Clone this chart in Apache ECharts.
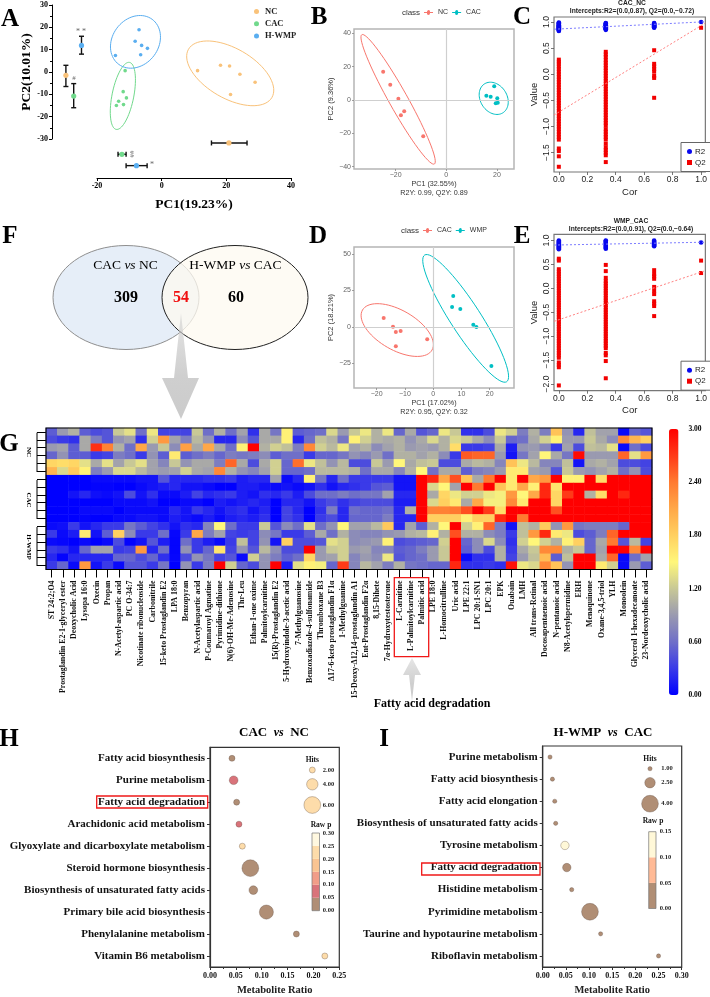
<!DOCTYPE html>
<html><head><meta charset="utf-8">
<script src="https://cdn.jsdelivr.net/npm/echarts@6/dist/echarts.min.js"></script>
<style>html,body{margin:0;padding:0;background:#fff}#c{width:710px;height:997px}</style>
</head><body><div id="c"></div>
<script>
// ---------- Panel A
const aNC=[[11.1,0.6],[18.2,3.0],[21.0,2.7],[24.2,-1.0],[28.9,-4.6],[21.3,-10.1]];
const aCAC=[[-11.3,0.6],[-11.9,-8.8],[-10.9,-11.6],[-13.3,-13.1],[-11.8,-14.6],[-14,-15]];
const aWMP=[[-7,18.9],[-8.2,13.8],[-6.2,11.9],[-4.4,10.6],[-6.5,7.7],[-14.3,7.4]];
const aEll={NC:[21.2,-0.6,12.9,-10.8,3.87,9.67],CAC:[-12,-10.7,2.06,15.0,3.3,-0.9],'H-WMP':[-8.1,13.5,5.15,10.1,5.77,-6.1]};
const aPC2Err=[[0,-1.5,-6.5,3],[1,-10.8,-16,-5.2],[2,11.9,8,16]];
const aPC1Err=[[0,20.8,15.4,26.4],[1,-12.3,-13.5,-11],[2,-7.8,-11,-4.5]];
// ---------- Panel B
const bNC=[[-24.9,17],[-22.1,9.2],[-18.9,0.8],[-16.6,-6.8],[-17.9,-9.2],[-9.1,-21.8]];
const bCAC=[[15.8,2.6],[17.5,2],[18.9,8.2],[20.1,1],[19.5,-2],[20.3,-1.6]];
const bEll={NC:[-19,0.4,14.3,-38.8,3.2,2.74],CAC:[18.7,1,3.9,-8.4,4.2,4.8]};
// ---------- Panel D
const dCAC=[[-17.5,6.2],[-14.2,0.2],[-13.2,-3.4],[-11.5,-2.7],[-13.2,-13.2],[-2.1,-8.4]];
const dWMP=[[7.1,21.2],[6.7,13.7],[9.6,12.3],[14.2,1.6],[15.3,0],[20.6,-26.7]];
const dEll={CAC:[-12.7,-2.1,12.3,-13.7,3.5,11.8],WMP:[11.5,5.9,14.5,-43.4,4.5,5.5]};
// ---------- Panel C (permutation test)
const cR2at0=[.83,.84,.85,.86,.87,.88,.89,.9,.91,.92,.93,.94,.95,.96,.97,.98,.99];
const cR2at33=[.85,.86,.87,.88,.89,.9,.91,.92,.93,.94,.95,.96,.97,.98];
const cR2at67=[.89,.9,.91,.92,.93,.94,.95,.96,.97,.98];
const cR2at1=[1];
const cQ2at0=[-1.77,-1.57,-1.47,-1.42,-1.25,-1.2,-1.15,-1.1,-1.05,-1,-.95,-.9,-.85,-.8,-.75,-.7,-.65,-.6,-.55,-.5,-.45,-.4,-.35,-.3,-.25,-.2,-.15,-.1,-.05,0,.05,.1,.15,.2,.24,.28];
const cQ2at33=[-1.68,-1.55,-1.5,-1.45,-1.4,-1.33,-1.25,-1.2,-1.15,-1.1,-1.05,-.98,-.93,-.88,-.83,-.78,-.73,-.68,-.63,-.58,-.53,-.48,-.43,-.38,-.33,-.28,-.23,-.18,-.13,-.08,-.03,.02,.07,.12,.17,.22,.27,.33,.38,.43];
const cQ2at67=[-.45,-.07,-.03,.05,.1,.15,.2,.46];
const cQ2at1=[.89];
const cLineQ2=[[-0.034,-0.78],[1.03,0.98]];
const cLineR2=[[-0.034,0.862],[1.03,1.005]];
// ---------- Panel E
const eR2at0=[.82,.84,.86,.88,.9,.92,.94,.96,.98,1];
const eR2at33=[.83,.85,.87,.89,.91,.93,.95,.97,.99,1];
const eR2at67=[.88,.9,.92,.94,.96,.98,1];
const eR2at1=[.96];
const eQ2at0=[-2.03,-1.65,-1.6,-1.55,-1.45,-1.4,-1.35,-1.3,-1.25,-1.2,-1.15,-1.1,-1.05,-1,-.95,-.9,-.85,-.8,-.75,-.7,-.65,-.6,-.55,-.5,-.45,-.4,-.35,-.3,-.25,-.2,-.15,-.1,-.05,0,.05,.1,.15,.2,.25,.3,.35,.4,.58,.62];
const eQ2at33=[-1.88,-1.52,-1.4,-1.35,-1.25,-1.2,-1.15,-1.1,-1.05,-1,-.95,-.9,-.85,-.8,-.75,-.7,-.65,-.6,-.55,-.5,-.45,-.4,-.35,-.3,-.25,-.2,-.15,-.1,-.05,0,.05,.1,.15,.22,.36,.49];
const eQ2at67=[-.58,-.37,-.32,-.27,-.12,-.05,.03,.2,.25,.3,.38];
const eQ2at1=[.32,.58];
const eLineQ2=[[-0.034,-0.69],[1.03,0.37]];
const eLineR2=[[-0.034,0.905],[1.03,0.965]];
// ---------- Panel G (heatmap)
const metabolites=['ST 24:2;O4','Prostaglandin E2-1-glyceryl ester','Deoxycholic Acid','Lysopa 16:0','Oxecin','Propan','N-Acetyl-aspartic acid','PC O-34:7','Nicotinate ribonucleoside','Carbonitrile','15-keto Prostaglandin E2','LPA 18:0','Benzopyran','N-Acetylaspartic acid','P-Coumaroyl Agmatine','Pyrimidine-dithione','N(6)-OH-Me-Adenosine','Thr-Leu','Ethan-1-one oxime','Palmitoylcarnitine','15(R)-Prostaglandin E2','5-Hydroxyindole-3-acetic acid','7-Methylguanosine','Benzoxadiazole-4-sulfonamide','Thromboxane B3','Δ17-6-keto prostaglandin F1α','1-Methylguanine','15-Deoxy-Δ12,14-prostaglandin A1','Ent-Prostaglandin F2α','8,15-Dihete','7α-Hydroxytestosterone','L-Carnitine','L-Palmitoylcarnitine','Palmitic acid','LPE 18:0','L-Homocitrulline','Uric acid','LPE 22:1','LPC 20:1-SN1','LPC 20:1','EPK','Ouabain','LMH','All trans-Retinal','Docosapentaenoic acid','N-pentanoic acid','N8-Acetylspermidine','ERH','Menaquinone','Oxane-3,4,5-triol','YLH','Monoolein','Glycerol 1-hexadecanoate','23-Nordeoxycholic acid'];
const heatNC=[
[.5,.9,1.05,.5,.4,.45,1.2,1.35,.6,1.4,.35,.35,.35,1.2,.6,1.05,.6,.95,.25,1.0,.65,1.55,.5,.55,.6,1.3,.9,1.2,1.4,1.05,1.4,.55,1.0,.45,.55,1.4,1.2,.25,.25,.4,1.4,1.25,.7,1.05,.7,1.9,.85,.2,1.15,.95,.95,.05,.55,.45],
[.4,.3,.25,1.0,.7,.45,.85,.95,.25,1.25,2.2,.95,.7,1.1,.85,.2,.2,.8,.45,1.0,1.0,1.55,.2,.6,1.15,1.05,.65,1.55,1.25,1.05,1.0,1.05,.85,1.0,1.3,1.05,1.3,1.2,1.0,.8,1.2,.55,.6,1.0,1.25,1.55,.9,.9,1.2,1.0,.8,2.3,2.0,1.8],
[.9,.95,.5,1.0,2.75,2.35,1.05,.6,2.1,.9,1.2,.8,2.15,1.0,2.1,1.0,.6,1.55,3,1.05,1.25,1.15,.7,2.3,1.25,1.1,1.4,.95,1.05,.8,.95,1.05,.9,.95,.9,1.05,1.7,.3,.3,.35,1.0,.15,.85,.9,.75,.3,.95,.4,1.15,1.1,1.35,.05,.6,.4],
[.55,.85,.5,.5,.3,.35,.7,.6,.3,.85,.5,1.6,.5,.6,.7,.55,.7,.65,.7,.8,.5,.6,.6,.3,.55,.55,.65,.85,.75,.9,.6,1.05,1.05,.95,1.05,.8,.3,2.55,2.5,2.5,.9,.1,.65,.95,1.5,1.0,.65,2.95,.9,.9,.9,2.5,1.35,2.2],
[1.75,1.7,1.75,1.35,1.0,1.35,.95,1.2,1.35,.95,.75,1.2,.85,1.0,1.0,.7,2.5,1.0,.4,1.0,1.25,.55,2.45,1.4,1.15,.85,1.1,.4,.4,1.2,.9,1.5,1.0,1.15,1.2,.4,.4,1.0,1.1,1.05,.75,1.9,1.4,1.1,.75,.75,1.15,.1,1.0,1.05,.95,.4,.4,.35],
[2.0,1.3,1.85,1.55,.7,.9,1.3,1.3,1.1,.95,.9,.95,1.25,1.0,.95,2.3,1.05,.85,.75,.95,1.25,.55,.55,.6,1.1,1.1,1.1,1.05,.6,1.0,1.0,.75,1.05,1.5,.6,1.0,1.0,.5,.7,.75,.9,1.6,1.6,.95,.9,.45,1.2,.9,.85,.95,1.05,.6,.85,.4]];
const heatCAC=[
[0,0,0,0,.05,.05,.05,.05,.1,.1,.45,.2,.2,.2,.25,.25,.3,.15,.2,.2,.95,.05,.2,1.55,.65,.2,.6,.3,.3,.3,.3,.1,.1,3,2.8,2.1,2.6,1.9,1.0,2.4,3,1.6,3,2.1,2.2,3,1.55,1.55,3,1.7,3,3,3,3],
[0,0,0,0,.02,.02,0,0,.05,.1,.15,.2,.1,.1,.05,0,0,.15,.15,.1,.05,.1,.05,.1,.25,.1,.2,.25,.3,.45,.5,.1,.1,3,1.3,1.5,.95,3,2.4,3,1.9,1.6,2.1,1.55,2.8,1.65,3,3,3,3,3,3,3,3],
[0,0,.1,.2,.08,.05,.1,.4,.1,.25,.05,.05,.15,.35,.2,.25,.3,.15,.1,.25,.2,.3,.15,.4,.6,.6,.7,.6,.65,.65,.95,.2,.2,3,1.0,1.75,1.4,1.25,1.25,1.4,1.45,2.2,1.5,2.1,2.8,1.75,2.7,3,1.05,1.7,3,2.8,3,3],
[0,0,0,0,0,0,.05,.05,.05,.1,0,0,.05,.05,0,.15,.1,.15,.2,.15,0,.2,.2,.1,.3,.4,.25,.35,.4,.4,.4,.15,.15,3,1.3,1.8,1.6,1.0,2.1,1.45,1.45,2.3,1.6,3,3,1.75,3,3,3,3,3,3,3,3],
[0,0,0,.05,.05,.05,0,.05,.05,.05,.05,.2,.1,.3,.2,.1,.2,.25,.1,.2,0,.35,.2,0,.25,.7,.2,.6,.55,.55,.6,.2,1.05,3,2.35,2.35,2.4,2.6,3,2.7,1.7,3,3,3,3,2.6,3,3,3,3,3,3,3,3],
[0,0,0,.02,0,0,.05,.05,.1,.1,.05,.15,.1,.05,.15,.05,.15,.2,.15,.25,0,.35,.25,0,.3,.4,.2,.55,.55,.55,.7,.2,.2,3,1.8,1.8,1.8,1.55,1.8,1.8,2.8,3,2.4,3,3,3,3,3,3,3,3,3,3,3]];
const heatWMP=[
[.05,.08,.3,.1,.2,.3,.3,.65,.5,.35,.25,.1,.25,.2,.75,1.5,.6,.3,.3,1.2,.45,.8,.6,1.35,.6,.85,1.5,.95,.95,1.1,1.85,.2,.95,.5,1.05,1.5,3,1.25,1.55,2.5,.7,.1,1.15,1.05,1.85,.85,2.2,.65,.7,.7,.7,.55,3,3],
[.3,.05,.15,1.6,.1,.5,1.8,.8,.3,.3,.6,.03,.3,2.1,.7,.95,.35,.3,.35,.8,.65,.3,.3,.5,1.0,.6,1.05,.8,.75,.75,.85,.9,1.05,1.1,1.55,1.05,2.6,1.05,1.05,.8,.7,.3,1.15,2.2,2.8,1.6,1.4,.4,.5,.7,2.5,3,3,3],
[.05,.03,0,.05,0,.05,.4,.02,.1,.45,.15,.02,.6,.3,.15,.05,.3,1.15,.35,.85,.1,1.8,.4,.4,.45,1.35,1.25,.8,.85,.9,1.55,.4,.45,.5,.55,1.25,3,.55,.8,1.3,.8,.25,1.25,1.5,1.25,1.05,1.55,1.8,.55,1.0,2.4,.45,1.1,.35],
[.3,.25,.1,.55,.95,.95,.3,.35,2.2,.2,.6,.02,.85,.3,.55,1.65,.35,.85,.45,1.1,.8,.4,.4,3,.9,1.2,1.25,.9,.95,.75,.75,.5,.55,.7,.9,1.2,3,.5,.8,.4,1.05,.3,1.0,1.2,2.3,2.3,1.05,1.2,.55,.95,3,3,2.3,3],
[.2,.02,.2,.2,.2,.2,.55,.55,.4,.55,.25,.03,.4,.85,.65,.35,.45,.05,1.25,.85,.7,.5,.6,1.75,.9,.95,1.25,.75,.9,.8,1.4,.45,.55,.6,.9,1.2,3,.05,.25,.25,1.05,.35,.9,1.15,1.95,.5,1.15,3,3,1.0,2.5,.05,.6,.95],
[.3,.55,.05,2.2,.1,.3,.05,.45,.45,.3,.65,0,.85,.3,.7,3,1.25,.55,.4,.85,3,.15,1.35,1.55,1.45,.55,2.7,.75,1.1,.95,.7,1.05,.65,.6,.55,.55,2.8,.25,.25,.3,.25,2.9,1.4,1.3,2.3,1.9,.85,3,3,1.6,1.25,.05,.9,.5]];
const heatTicks=['3.00','2.40','1.80','1.20','0.60','0.00'];
// ---------- Panel H
const hPath=['Fatty acid biosynthesis','Purine metabolism','Fatty acid degradation','Arachidonic acid metabolism','Glyoxylate and dicarboxylate metabolism','Steroid hormone biosynthesis','Biosynthesis of unsaturated fatty acids','Primary bile acid biosynthesis','Phenylalanine metabolism','Vitamin B6 metabolism'];
const hRatio=[.0425,.0457,.0515,.056,.0625,.078,.0838,.109,.167,.222];
const hHits=[2,3,2,2,2,6,3,5,2,2];
const hP=[.03,.07,.04,.07,.22,.01,.03,.005,.03,.22];
const hHitKeys=[2,4,6];
const hPTicks=['0.30','0.25','0.20','0.15','0.10','0.05','0.00'];
// ---------- Panel I
const iPath=['Purine metabolism','Fatty acid biosynthesis','Fatty acid elongation','Biosynthesis of unsaturated fatty acids','Tyrosine metabolism','Fatty acid degradation','Histidine metabolism','Pyrimidine metabolism','Taurine and hypotaurine metabolism','Riboflavin metabolism'];
const iRatio=[.0158,.021,.026,.028,.048,.052,.0626,.102,.125,.25];
const iHits=[1,1,1,1,2,2,1,4,1,1];
const iP=[.02,.02,.02,.02,.12,.03,.02,.01,.02,.02];
const iHitKeys=[1,2.5,4];
const iPTicks=['0.15','0.10','0.05','0.00'];
// ---------- Venn
const vennCounts=[309,54,60];

// ---------- styles
const SERIF='"Liberation Serif",serif', SANS='"Liberation Sans",sans-serif';
const cNC='#f9c27a',cCAC='#71d98c',cWMP='#5aaef0',gg1='#F8766D',gg2='#00BFC4';
const hColors=['#b08e75','#d9737a','#f19d88','#f9c492','#fddcaa','#fff8e0'];
const iColors=['#b08e75','#ffba96','#fff8d8'];

const grids=[],xAxes=[],yAxes=[],series=[],legends=[],graphics=[];
function addGrid(l,t,w,h,x,y,extra){
  grids.push(Object.assign({left:l,top:t,width:w,height:h,containLabel:false},extra||{}));
  const i=grids.length-1;
  xAxes.push(Object.assign({gridIndex:i},x));yAxes.push(Object.assign({gridIndex:i},y));return i;
}
const hidden={show:false,type:'value'};
function ellipse(g,coef,color){
  series.push({type:'custom',xAxisIndex:g,yAxisIndex:g,silent:true,clip:false,data:[coef],z:3,
    renderItem:(p,api)=>{
      const c=[0,1,2,3,4,5].map(i=>api.value(i)),pts=[];
      for(let k=0;k<72;k++){const t=k/72*2*Math.PI;
        pts.push(api.coord([c[0]+Math.cos(t)*c[2]+Math.sin(t)*c[4],c[1]+Math.cos(t)*c[3]+Math.sin(t)*c[5]]));}
      return {type:'polygon',shape:{points:pts},style:{fill:'none',stroke:color,lineWidth:1}};
    }});
}
function pts(g,name,data,color,size,symbol,z){
  series.push({type:'scatter',name,xAxisIndex:g,yAxisIndex:g,data,symbol:symbol||'circle',symbolSize:size,silent:true,z:z||4,
    itemStyle:{color,opacity:1}});
}
function errBars(g,data,colors,vertical){
  series.push({type:'custom',xAxisIndex:g,yAxisIndex:g,silent:true,clip:false,data,z:4,
    renderItem:(p,api)=>{
      const i=api.value(0),m=api.value(1),lo=api.value(2),hi=api.value(3);
      const P=v=>api.coord(vertical?[i,v]:[v,i]);
      const a=P(lo),b=P(hi),c=P(m),st={stroke:'#111',lineWidth:1.4};
      const cap=q=>vertical?{x1:q[0]-2.5,y1:q[1],x2:q[0]+2.5,y2:q[1]}:{x1:q[0],y1:q[1]-2.5,x2:q[0],y2:q[1]+2.5};
      return {type:'group',children:[
        {type:'line',shape:{x1:a[0],y1:a[1],x2:b[0],y2:b[1]},style:st},
        {type:'line',shape:cap(a),style:st},{type:'line',shape:cap(b),style:st},
        {type:'circle',shape:{cx:c[0],cy:c[1],r:2.6},style:{fill:colors[i]}}]};
    }});
}
function text(x,y,t,o){graphics.push({type:'text',x,y,z:50,silent:true,rotation:(o&&o.rot)||0,
  style:Object.assign({text:t,fill:'#000',font:(o&&o.font)||('bold 8px '+SERIF),align:'center',verticalAlign:'middle'},(o&&o.style)||{})});}
function box(x,y,w,h){graphics.push({type:'rect',z:50,silent:true,shape:{x,y,width:w,height:h},style:{fill:'none',stroke:'#f01818',lineWidth:1.3}});}
function grayArrow(points){graphics.push({type:'polygon',z:40,silent:true,shape:{points},style:{fill:{type:'linear',x:0,y:0,x2:0,y2:1,global:false,colorStops:[{offset:0,color:'rgba(200,200,200,0.45)'},{offset:.6,color:'#cfcfcf'},{offset:1,color:'#cbcbcb'}]}}});}

// ---------- A
const serifAxisLbl={fontFamily:SERIF,fontWeight:'bold',fontSize:8,color:'#000',margin:4};
const blk={lineStyle:{color:'#000',width:1}};
const gA=addGrid(97,5,194,134,
 {type:'value',min:-20,max:40,interval:20,offset:39,splitLine:{show:false},axisLine:{show:true,onZero:false,...blk},axisTick:{show:true,inside:false,length:3,...blk},axisLabel:serifAxisLbl,
  name:'PC1(19.23%)',nameLocation:'middle',nameGap:20,nameTextStyle:{fontFamily:SERIF,fontWeight:'bold',fontSize:13.5,color:'#000'}},
 {type:'value',min:-30,max:30,interval:10,offset:45,splitLine:{show:false},axisLine:{show:true,onZero:false,...blk},axisTick:{show:true,length:3,...blk},minorTick:{show:true,splitNumber:2,length:2,...blk},axisLabel:serifAxisLbl,
  name:'PC2(10.01%)',nameLocation:'middle',nameGap:17,nameTextStyle:{fontFamily:SERIF,fontWeight:'bold',fontSize:13.5,color:'#000'}});
ellipse(gA,aEll.NC,cNC);ellipse(gA,aEll.CAC,cCAC);ellipse(gA,aEll['H-WMP'],cWMP);
pts(gA,'NC',aNC,cNC,3.6);pts(gA,'CAC',aCAC,cCAC,3.6);pts(gA,'H-WMP',aWMP,cWMP,3.6);
const gA1=addGrid(62,5,23.4,134,{...hidden,min:-.5,max:2.5},{...hidden,min:-30,max:30});
errBars(gA1,aPC2Err,[cNC,cCAC,cWMP],true);
const gA2=addGrid(97,137.3,194,34,{...hidden,min:-20,max:40},{...hidden,min:-.5,max:2.5,inverse:true});
errBars(gA2,aPC1Err,[cNC,cCAC,cWMP],false);
legends.push({data:['NC','CAC','H-WMP'],orient:'vertical',left:254,top:7,itemWidth:5,itemHeight:5,itemGap:3.2,padding:0,icon:'circle',selectedMode:false,
  textStyle:{fontFamily:SERIF,fontWeight:'bold',fontSize:8.5,color:'#222',padding:[0,0,0,1]}});
text(81,32,'* *',{font:'8px '+SERIF,style:{fill:'#666'}});text(74,78,'#',{font:'7px '+SERIF,style:{fill:'#666'}});
text(132,154,'##',{font:'7px '+SERIF,rot:Math.PI/2,style:{fill:'#666'}});text(152,165,'*',{font:'8px '+SERIF,style:{fill:'#666'}});

// ---------- B, D
function ggPanel(l,t,w,h,xr,yr,xt,yt,xn,yn){
  const lbl={fontFamily:SANS,fontSize:7,color:'#666',margin:3};
  const tk={show:true,length:2,lineStyle:{color:'#888',width:.8}};
  return addGrid(l,t,w,h,
   {type:'value',min:xr[0],max:xr[1],splitLine:{show:false},axisLine:{show:false,onZero:false},axisTick:{...tk,customValues:xt},
    axisLabel:{...lbl,customValues:xt,formatter:v=>String(v).replace('-','−')},
    name:xn,nameLocation:'middle',nameGap:11,nameTextStyle:{fontFamily:SANS,fontSize:7.2,color:'#333',lineHeight:8.5,verticalAlign:'top'}},
   {type:'value',min:yr[0],max:yr[1],splitLine:{show:false},axisLine:{show:false,onZero:false},axisTick:{...tk,customValues:yt},
    axisLabel:{...lbl,customValues:yt,formatter:v=>String(v).replace('-','−')},
    name:yn,nameLocation:'middle',nameGap:12,nameTextStyle:{fontFamily:SANS,fontSize:7.5,color:'#333'}},
   {show:true,borderColor:'#b5b5b5',borderWidth:1.5,backgroundColor:'#fff'});
}
function zeroLines(i){series[i].markLine={silent:true,symbol:'none',animation:false,label:{show:false},lineStyle:{color:'#cfcfcf',width:1.2,type:'solid'},data:[{xAxis:0},{yAxis:0}]};}
const gB=ggPanel(354,29,160,140,[-36.4,26.7],[-41.4,42.6],[-20,0,20],[-40,-20,0,20,40],'PC1 (32.55%)\nR2Y: 0.99, Q2Y: 0.89','PC2 (9.36%)');
pts(gB,'NC',bNC,gg1,4);zeroLines(series.length-1);pts(gB,'CAC',bCAC,gg2,4);
ellipse(gB,bEll.NC,gg1);ellipse(gB,bEll.CAC,gg2);
const gD=ggPanel(354,247,160,141,[-28,28.6],[-41.8,54.8],[-20,-10,0,10,20],[-25,0,25,50],'PC1 (17.02%)\nR2Y: 0.95, Q2Y: 0.32','PC2 (18.21%)');
pts(gD,'CAC',dCAC,gg1,4);zeroLines(series.length-1);pts(gD,'WMP',dWMP,gg2,4);
ellipse(gD,dEll.CAC,gg1);ellipse(gD,dEll.WMP,gg2);
const ggIcon='path://M0,4.4H4.1A2,2 0 1 1 7.9,4.4H12V5.6H7.9A2,2 0 1 1 4.1,5.6H0Z';
function ggLegend(top,names,cols,left){legends.push({left,top,itemWidth:9,itemHeight:5,itemGap:4,padding:0,selectedMode:false,
  data:names.map((n,i)=>({name:n,icon:ggIcon,itemStyle:{color:cols[i]}})),textStyle:{fontFamily:SANS,fontSize:7,color:'#333'}});}
ggLegend(9,['NC','CAC'],[gg1,gg2],424);ggLegend(227,['CAC','WMP'],[gg1,gg2],423);
text(411,13,'class',{font:'8px '+SANS,style:{fill:'#333'}});text(410,231,'class',{font:'8px '+SANS,style:{fill:'#333'}});

// ---------- C, E
function permPanel(t,h,yr,r2,q2,lq,lr){
  const lbl={fontFamily:SANS,fontSize:8.5,color:'#222',margin:3};
  const tk={show:true,length:3,lineStyle:{color:'#555',width:.8}};
  const xt=[0,.2,.4,.6,.8,1],yt=[-2,-1.5,-1,-.5,0,.5,1].filter(v=>v>=yr[0]);
  const g=addGrid(554,t,155.5,h,
   {type:'value',min:-.034,max:1.03,splitLine:{show:false},axisLine:{show:false,onZero:false},axisTick:{...tk,customValues:xt},
    axisLabel:{...lbl,customValues:xt,formatter:v=>v.toFixed(1)},name:'Cor',nameLocation:'middle',nameGap:15,nameTextStyle:{fontFamily:SANS,fontSize:9.5,color:'#222'}},
   {type:'value',min:yr[0],max:yr[1],splitLine:{show:false},axisLine:{show:false,onZero:false},axisTick:{...tk,customValues:yt},
    axisLabel:{...lbl,rotate:90,customValues:yt,formatter:v=>v.toFixed(1).replace('-','−')},name:'Value',nameLocation:'middle',nameGap:15,nameTextStyle:{fontFamily:SANS,fontSize:9.5,color:'#222'}},
   {show:true,borderColor:'#777',borderWidth:1.2,backgroundColor:'#fff'});
  const at=[0,.33,.67,1],flat=a=>a.flatMap((l,i)=>l.map(v=>[at[i],v]));
  const line=(d,c)=>series.push({type:'line',xAxisIndex:g,yAxisIndex:g,data:d,symbol:'none',silent:true,z:5,lineStyle:{color:c,width:1,type:[2,2]}});
  pts(g,'Q2',flat(q2),'#f20000',4,'rect');pts(g,'R2',flat(r2),'#0808ee',4.6,'circle');
  line(lq,'#ff8080');line(lr,'#7d7dff');
  legends.push({left:681,top:t+h-29.5,orient:'vertical',data:['R2','Q2'],itemWidth:5,itemHeight:5,itemGap:3,selectedMode:false,padding:[5,5,5,6],
    backgroundColor:'#fff',borderColor:'#666',borderWidth:1,textStyle:{fontFamily:SANS,fontSize:8,color:'#222',padding:[0,0,0,-2]}});
}
permPanel(17,155,[-1.87,1.096],[cR2at0,cR2at33,cR2at67,cR2at1],[cQ2at0,cQ2at33,cQ2at67,cQ2at1],cLineQ2,cLineR2);
permPanel(234.3,156.4,[-2.14,1.13],[eR2at0,eR2at33,eR2at67,eR2at1],[eQ2at0,eQ2at33,eQ2at67,eQ2at1],eLineQ2,eLineR2);
text(632,3,'CAC_NC',{font:'bold 6.7px '+SANS,style:{fill:'#222'}});
text(632,11,'Intercepts:R2=(0.0,0.87), Q2=(0.0,−0.72)',{font:'bold 6.7px '+SANS,style:{fill:'#222'}});
text(631,221,'WMP_CAC',{font:'bold 6.7px '+SANS,style:{fill:'#222'}});
text(631,229,'Intercepts:R2=(0.0,0.91), Q2=(0.0,−0.64)',{font:'bold 6.7px '+SANS,style:{fill:'#222'}});

// ---------- G
const rowNames=[];const heatRows=[...heatNC,...heatCAC,...heatWMP];
heatRows.forEach((r,i)=>rowNames.push('r'+i));
const gG=addGrid(46,428,606,141.5,
 {type:'category',data:metabolites,splitLine:{show:false},axisLine:{show:false,onZero:false},axisTick:{show:true,alignWithLabel:true,interval:0,length:8,lineStyle:{color:'#000',width:1}},
  axisLabel:{interval:0,rotate:90,fontFamily:SERIF,fontWeight:'bold',fontSize:7.9,color:'#111',margin:11,hideOverlap:false}},
 {type:'category',data:rowNames,inverse:true,splitLine:{show:false},axisLine:{show:false,onZero:false},axisTick:{show:true,alignWithLabel:true,interval:0,length:9,lineStyle:{color:'#000',width:1}},axisLabel:{show:false}},
 {show:true,borderColor:'#000',borderWidth:1.2,z:6});
const heatIndex=series.length;
series.push({type:'heatmap',xAxisIndex:gG,yAxisIndex:gG,silent:true,progressive:0,
  data:heatRows.flatMap((r,y)=>r.map((v,x)=>[x,y,v])),itemStyle:{borderWidth:0}});
[[432.7,472],[480,519],[527,566]].forEach(s=>graphics.push({type:'line',z:50,silent:true,shape:{x1:37,y1:s[0],x2:37,y2:s[1]},style:{stroke:'#000',lineWidth:1}}));
text(29,452,'NC',{font:'bold 7px '+SERIF,rot:-Math.PI/2});text(29,500,'CAC',{font:'bold 7px '+SERIF,rot:-Math.PI/2});text(29,547,'H-WMP',{font:'bold 7px '+SERIF,rot:-Math.PI/2});
heatTicks.forEach((t,i)=>text(695,429+i*53.2,t,{font:'bold 7.5px '+SERIF}));
box(394.3,577.7,34.4,79);
grayArrow([[412,658],[421,675],[415,675],[412,701],[409,675],[403,675]]);
text(432,704,'Fatty acid degradation',{font:'bold 12px '+SERIF});

// ---------- H, I
function bubblePanel(l,t,w,h,names,ratio,hits,p,xMax,colors,binW,sizeFn){
  const g=addGrid(l,t,w,h,
   {type:'value',min:0,max:xMax,interval:.05,splitLine:{show:false},axisLine:{show:true,onZero:false,lineStyle:{color:'#333',width:1.2}},axisTick:{show:true,length:3,lineStyle:{color:'#333'}},minorTick:{show:true,splitNumber:2,length:2,lineStyle:{color:'#333'}},
    axisLabel:{fontFamily:SERIF,fontWeight:'bold',fontSize:8,color:'#111',margin:5,formatter:v=>v.toFixed(2)},
    name:'Metabolite Ratio',nameLocation:'middle',nameGap:18,nameTextStyle:{fontFamily:SERIF,fontWeight:'bold',fontSize:10.5,color:'#222'}},
   {type:'category',data:names,inverse:true,splitLine:{show:false},axisLine:{show:true,onZero:false,lineStyle:{color:'#333',width:1.2}},axisTick:{show:true,alignWithLabel:true,interval:0,length:3,lineStyle:{color:'#333'}},
    axisLabel:{interval:0,fontFamily:SERIF,fontWeight:'bold',fontSize:11,color:'#111',margin:5}},
   {show:true,borderColor:'#333',borderWidth:1.2});
  series.push({type:'scatter',xAxisIndex:g,yAxisIndex:g,silent:true,z:4,
    data:names.map((n,i)=>[ratio[i],n,hits[i],p[i]]),encode:{x:0,y:1},
    symbolSize:v=>sizeFn(v[2]),
    itemStyle:{opacity:1,borderColor:'rgba(90,70,60,.55)',borderWidth:.6,color:q=>colors[Math.min(colors.length-1,Math.floor(q.value[3]/binW))]}});
  return g;
}
const hSize=h=>2.7*h+.6,iSize=h=>4.2*h;
bubblePanel(210,747.3,129.3,222,hPath,hRatio,hHits,hP,.25,hColors,.05,hSize);
bubblePanel(542.7,746,139,223.3,iPath,iRatio,iHits,iP,.3,iColors,.05,iSize);
box(96.7,796,111,12);box(421.7,863,118.3,12);
const vsTitle=(a,b)=>'{a|'+a+'  }{v|vs}{a|  '+b+'}';
const titleRich={a:{fontFamily:SERIF,fontWeight:'bold',fontSize:13,color:'#111'},v:{fontFamily:SERIF,fontWeight:'bold',fontStyle:'italic',fontSize:12,color:'#111'}};
function richText(x,y,t,rich){graphics.push({type:'text',x,y,z:50,silent:true,style:{text:t,rich,align:'center',verticalAlign:'middle'}});}
richText(274,733,vsTitle('CAC','NC'),titleRich);richText(603,733,vsTitle('H-WMP','CAC'),titleRich);
function hitsLegend(xc,xl,title,ys,keys,sf,col){
  text(xc,title[1],'Hits',{font:'bold 7.5px '+SERIF,style:{fill:'#111'}});
  keys.forEach((k,i)=>{graphics.push({type:'circle',z:50,silent:true,shape:{cx:xc,cy:ys[i],r:sf(k)/2},style:{fill:col,stroke:'rgba(90,70,60,.55)',lineWidth:.6}});
    text(xl,ys[i],k.toFixed(2),{font:'bold 6.5px '+SERIF,style:{fill:'#222'}});});
}
function pBar(x,w,top,step,cols,ticks,xl,xt,yt){
  text(xt,yt,'Raw p',{font:'bold 7.5px '+SERIF,style:{fill:'#111'}});
  const n=cols.length;
  cols.forEach((c,i)=>graphics.push({type:'rect',z:50,silent:true,shape:{x,y:top+(n-1-i)*step,width:w,height:step},style:{fill:c}}));
  graphics.push({type:'rect',z:51,silent:true,shape:{x,y:top,width:w,height:n*step},style:{fill:'none',stroke:'#777',lineWidth:.7}});
  ticks.forEach((t,i)=>text(xl,top+i*step,t,{font:'bold 6.5px '+SERIF,style:{fill:'#222'}}));
}
hitsLegend(312.3,328.5,[0,760.5],[770,784.3,805],hHitKeys,hSize,'#fddcaa');
pBar(312,7.5,833,12.95,hColors,hPTicks,328.5,321,825);
hitsLegend(650,667,[0,759.5],[768.7,782.7,803.7],iHitKeys,iSize,'#b08e75');
pBar(648.7,7.3,831.7,25.6,iColors,iPTicks,665.5,653,821.5);

// ---------- F Venn
graphics.push({type:'ellipse',z:20,silent:true,shape:{cx:126,cy:297.5,rx:73,ry:52},style:{fill:'#e6eef8',stroke:'#8f8f8f',lineWidth:1}});
graphics.push({type:'ellipse',z:21,silent:true,shape:{cx:235,cy:297.5,rx:73,ry:52},style:{fill:'rgba(253,249,240,.75)',stroke:'#222',lineWidth:1}});
const vennRich={a:{fontFamily:SERIF,fontSize:13.5,color:'#333'},v:{fontFamily:SERIF,fontStyle:'italic',fontSize:13.5,color:'#f01818'}};
richText(125.5,265,'{a|CAC }{v|vs}{a| NC}',vennRich);richText(235.5,265,'{a|H-WMP }{v|vs}{a| CAC}',vennRich);
text(126,298,String(vennCounts[0]),{font:'bold 16px '+SERIF});
text(181,298,String(vennCounts[1]),{font:'bold 16px '+SERIF,style:{fill:'#f01010'}});
text(236,298,String(vennCounts[2]),{font:'bold 16px '+SERIF});
grayArrow([[181,313],[188,378],[199,378],[181,419],[162,378],[174,378]]);

// ---------- Panel letters
[['A',10,20],['B',319,18],['C',522,18],['F',10,237],['D',318,237],['E',522,237],['G',9,445],['H',9,740],['I',384,740]]
 .forEach(a=>text(a[1],a[2],a[0],{font:'bold 25px '+SERIF}));

const chart=echarts.init(document.getElementById('c'),null,{renderer:'canvas'});
chart.setOption({animation:false,backgroundColor:'#fff',tooltip:{show:false},
  grid:grids,xAxis:xAxes,yAxis:yAxes,series,legend:legends,graphic:{elements:graphics},
  visualMap:{type:'continuous',min:0,max:3,seriesIndex:heatIndex,left:669,top:429,itemWidth:9.5,itemHeight:266,padding:0,calculable:false,realtime:false,hoverLink:false,
    inRange:{color:['#0000ff','#3a3ae8','#6f6fc8','#9a9ab0','#c8c896','#fff77a','#ffd060','#ffa848','#ff7a30','#ff3a18','#ff0000']}}
});
</script></body></html>
